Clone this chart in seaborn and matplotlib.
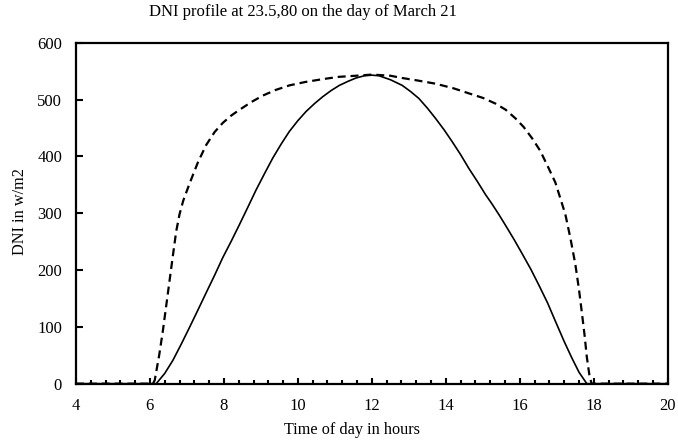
import pandas as pd
import seaborn as sns
import matplotlib.pyplot as plt
from matplotlib.ticker import MultipleLocator

# Solid curve (hour of day, DNI in w/m2)
solid_hours = [4.0, 6.17, 6.4, 6.62, 6.85, 7.07, 7.3, 7.52, 7.75, 7.97, 8.2, 8.42, 8.65,
               8.87, 9.1, 9.32, 9.55, 9.77, 10.0, 10.22, 10.45, 10.67, 10.9, 11.12, 11.35,
               11.57, 11.8, 12.0, 12.19, 12.5, 12.82, 13.05, 13.27, 13.5, 13.72, 13.95, 14.17,
               14.4, 14.62, 14.85, 15.07, 15.25, 15.43, 15.61, 15.85, 16.06, 16.3, 16.51,
               16.75, 16.96, 17.2, 17.4, 17.6, 17.81, 20.0]
solid_dni = [0, 0, 18, 41, 70, 99, 130, 160, 191, 222, 251, 280, 311,
             341, 370, 397, 422, 444, 463, 479, 493, 505, 516, 525, 532,
             538, 542, 543, 542, 535, 525, 514, 502, 485, 467, 447, 426,
             403, 379, 356, 333, 316, 298, 279, 253, 229, 201, 174,
             142, 110, 74, 46, 20, 0, 0]

# Dashed curve
dashed_hours = [4.0, 6.08, 6.13, 6.25, 6.35, 6.44, 6.53, 6.62, 6.71, 6.8, 6.9, 7.07, 7.3,
                7.52, 7.75, 7.97, 8.2, 8.42, 8.75, 9.05, 9.4, 9.77, 10.2, 10.67, 11.1, 11.57,
                12.0, 12.5, 12.82, 13.2, 13.72, 14.2, 14.62, 15.0, 15.34, 15.62, 15.88, 16.1,
                16.33, 16.55, 16.78, 16.96, 17.1, 17.23, 17.37, 17.5, 17.6, 17.68, 17.75,
                17.81, 17.88, 17.94, 20.0]
dashed_dni = [0, 0, 6, 50, 93, 137, 181, 225, 268, 298, 322, 352, 390,
              420, 443, 459, 472, 482, 496, 507, 517, 525, 531, 536, 540, 542,
              544, 542, 538, 534, 528, 520, 511, 503, 493, 482, 467, 452,
              432, 410, 379, 354, 325, 298, 255, 210, 165, 123, 85,
              47, 15, 0, 0]

df = pd.concat([
    pd.DataFrame({"hour": solid_hours, "dni": solid_dni, "series": "solid"}),
    pd.DataFrame({"hour": dashed_hours, "dni": dashed_dni, "series": "dashed"}),
])

sns.set_style("white")
plt.rcParams["font.family"] = ["Liberation Serif", "DejaVu Serif"]
plt.rcParams["text.color"] = "black"
plt.rcParams["xtick.color"] = "black"
plt.rcParams["ytick.color"] = "black"

fig = plt.figure(figsize=(6.78, 4.41), dpi=100)
ax = fig.add_axes([0.112, 0.130, 0.873, 0.773])

sns.lineplot(data=df, x="hour", y="dni", style="series", hue="series",
             palette={"solid": "black", "dashed": "black"},
             dashes={"solid": "", "dashed": (3.6, 2.2)},
             linewidth=1.3, legend=False, ax=ax, estimator=None, sort=False)

# thinner solid, heavier dashed like the original
lines = ax.get_lines()
lines[0].set_linewidth(1.2)
lines[1].set_linewidth(1.6)

ax.set_xlim(4, 20)
ax.set_ylim(0, 600)
ax.xaxis.set_major_locator(MultipleLocator(2))
ax.xaxis.set_minor_locator(MultipleLocator(0.4))
ax.yaxis.set_major_locator(MultipleLocator(100))

ax.tick_params(axis="x", which="major", direction="in", length=4, width=1.5,
               labelsize=12, pad=10, top=False, bottom=True)
ax.tick_params(axis="x", which="minor", direction="in", length=3, width=1.5,
               top=False, bottom=True)
ax.tick_params(axis="y", which="major", direction="in", length=5, width=1.5,
               labelsize=12, pad=10, left=True, right=False)

for spine in ax.spines.values():
    spine.set_visible(True)
    spine.set_color("black")
    spine.set_linewidth(1.6)

ax.set_xlabel("")
ax.set_ylabel("")
fig.text(0.519, 0.025, "Time of day in hours", ha="center", va="center", fontsize=11.7)
fig.text(0.03, 0.52, "DNI in w/m2", ha="center", va="center", rotation=90, fontsize=11.7)
fig.text(0.447, 0.972, "DNI profile at 23.5,80 on the day of March 21",
         ha="center", va="center", fontsize=12)

fig.savefig("out.png", dpi=100)
